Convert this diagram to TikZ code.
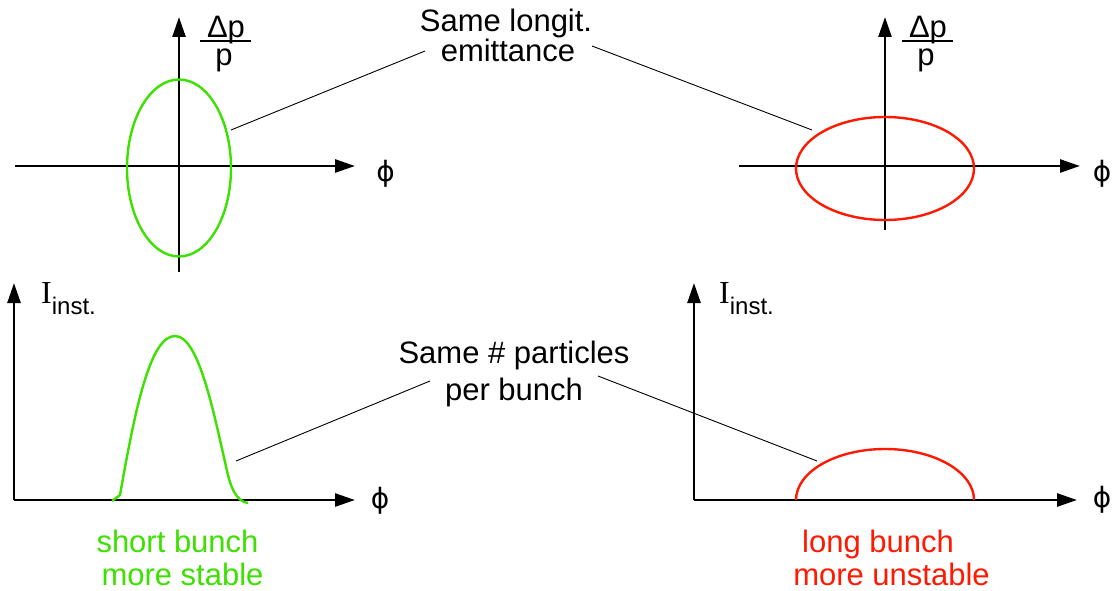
\documentclass[tikz,border=0pt]{standalone}
\usepackage{fontspec}
\setmainfont{Liberation Sans}
\newfontfamily\timesfont{Liberation Serif}
\newfontfamily\phifont{DejaVu Sans}
\usetikzlibrary{arrows.meta}
\definecolor{shortgreen}{RGB}{60,225,0}
\definecolor{longred}{RGB}{255,25,0}

\begin{document}
\begin{tikzpicture}[x=1pt,y=-1pt,
        axis/.style={line width=2.6pt,-{Triangle[length=20pt,width=13pt]}},
        bunch/.style={line width=2.4pt},
        callout/.style={line width=0.9pt},
        lbl/.style={inner sep=0pt,font=\fontsize{31}{34}\selectfont},
        philbl/.style={inner sep=0pt,font=\phifont\fontsize{28}{28}\selectfont},
        curlbl/.style={inner sep=0pt,anchor=base west,font=\fontsize{31}{34}\selectfont}]
        \useasboundingbox (0,0) rectangle (1113,591);
        % Draw the phase space axes
        \draw[axis] (179,272) -- (179,17);
        \draw[axis] (15,166) -- (355,166);
        \draw[axis] (885,230) -- (885,17);
        \draw[axis] (739,166) -- (1080,166);
        % Draw the current axes
        \draw[axis] (14,500) -- (14,283);
        \draw[axis] (14,500) -- (355,500);
        \draw[axis] (694,500) -- (694,283);
        \draw[axis] (694,500) -- (1077,500);
        % Draw the bunches in phase space
        \draw[bunch,shortgreen] (179,168) ellipse (52pt and 88.5pt);
        \draw[bunch,longred] (885,168.5) ellipse (89pt and 51.5pt);
        % Draw the bunch currents
        \draw[bunch,shortgreen] (112,501) -- (120,495)
            .. controls (135,410) and (150,336) .. (175,336)
            .. controls (200,336) and (215,420) .. (228,475)
            .. controls (233,495) and (240,502) .. (248,503);
        \draw[bunch,longred] (796,500) arc (180:0:89pt and 51pt);
        % Axis labels
        \node[lbl,anchor=base] (dpnumL) at (226,38) {Δp};
        \node[lbl,anchor=base] (dpdenL) at (224,66) {p};
        \draw[line width=2pt] (200,41) -- (251,41);
        \node[lbl,anchor=base] (dpnumR) at (928,38) {Δp};
        \node[lbl,anchor=base] (dpdenR) at (926,66) {p};
        \draw[line width=2pt] (902,41) -- (953,41);
        \node[philbl] (phiA) at (385.5,174) {ϕ};
        \node[philbl] (phiB) at (1102,174) {ϕ};
        \node[philbl] (phiC) at (380,501) {ϕ};
        \node[philbl] (phiD) at (1102,500) {ϕ};
        \node[curlbl] (curL) at (41,303) {{\timesfont\fontsize{32}{34}\selectfont I}\raisebox{-11pt}{\fontsize{24}{24}\selectfont inst.}};
        \node[curlbl] (curR) at (719,303) {{\timesfont\fontsize{32}{34}\selectfont I}\raisebox{-11pt}{\fontsize{24}{24}\selectfont inst.}};
        % Callouts
        \node[lbl,anchor=base] (emitA) at (506,32) {Same longit.};
        \node[lbl,anchor=base] (emitB) at (508,62) {emittance};
        \coordinate (emitL) at (425,51);
        \coordinate (emitR) at (592,46);
        \coordinate (greentop) at (231,130);
        \coordinate (redtop) at (812,130);
        \draw[callout] (emitL) -- (greentop);
        \draw[callout] (emitR) -- (redtop);
        \node[lbl,anchor=base] (partA) at (514,363) {Same \# particles};
        \node[lbl,anchor=base] (partB) at (514,400) {per bunch};
        \coordinate (partL) at (430,381);
        \coordinate (partR) at (598,376);
        \coordinate (greenside) at (236,461);
        \coordinate (redside) at (817,461);
        \draw[callout] (partL) -- (greenside);
        \draw[callout] (partR) -- (redside);
        % Bunch length notes
        \node[lbl,anchor=base,text=shortgreen] (shortA) at (177.5,552) {short bunch};
        \node[lbl,anchor=base,text=shortgreen] (shortB) at (182.5,585) {more stable};
        \node[lbl,anchor=base,text=longred] (longA) at (878,552) {long bunch};
        \node[lbl,anchor=base,text=longred] (longB) at (891.5,585) {more unstable};
    \end{tikzpicture}
\end{document}
